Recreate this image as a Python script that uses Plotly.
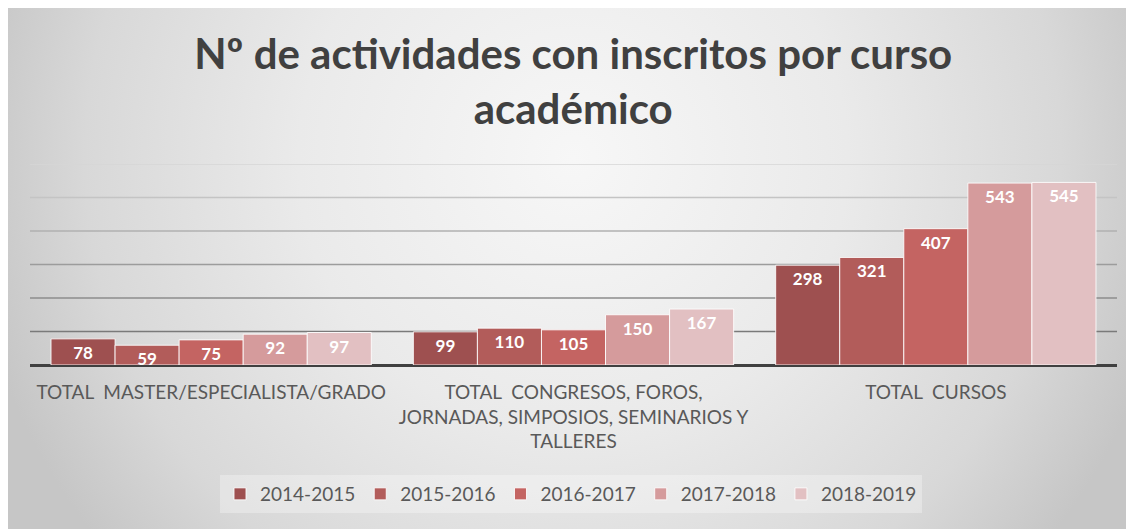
import plotly.graph_objects as go
import base64

categories = [
    "TOTAL\u00a0\u00a0MASTER/ESPECIALISTA/GRADO",
    "TOTAL\u00a0\u00a0CONGRESOS, FOROS,<br>JORNADAS, SIMPOSIOS, SEMINARIOS Y<br>TALLERES",
    "TOTAL\u00a0\u00a0CURSOS",
]
series_names = ["2014-2015", "2015-2016", "2016-2017", "2017-2018", "2018-2019"]
v_2014_2015 = [78, 99, 298]
v_2015_2016 = [59, 110, 321]
v_2016_2017 = [75, 105, 407]
v_2017_2018 = [92, 150, 543]
v_2018_2019 = [97, 167, 545]
series_values = [v_2014_2015, v_2015_2016, v_2016_2017, v_2017_2018, v_2018_2019]
colors = ["#9e5050", "#b25c5a", "#c46462", "#d59b9c", "#e2c0c2"]
grid_values = [100, 200, 300, 400, 500, 600]
grid_colors = ["#7a7a7a", "#8c8c8c", "#9c9c9c", "#b0b0b0", "#c4c4c4", "#d6d6d6"]

# page has an 8px body margin, so the figure itself is 1126x521
W, H = 1126, 521
ml, mr, mt, mb = 22, 17, 156, 164
pw, ph = W - ml - mr, H - mt - mb

fig = go.Figure()
for name, vals, col in zip(series_names, series_values, colors):
    fig.add_trace(go.Bar(
        x=categories, y=vals, name=name,
        marker=dict(color=col, line=dict(color="rgba(255,255,255,0.85)", width=1)),
        text=[str(v) for v in vals], textposition="inside", insidetextanchor="end",
        textangle=0, constraintext="none",
        textfont=dict(family="Lato, Open Sans, sans-serif", size=17, color="white", weight="bold"),
    ))

for gv, gc in zip(grid_values, grid_colors):
    fig.add_shape(type="line", xref="paper", yref="y", x0=0, x1=1, y0=gv, y1=gv,
                  line=dict(color=gc, width=1.3), layer="below")

svg = ('<svg xmlns="http://www.w3.org/2000/svg" width="1126" height="521" preserveAspectRatio="none">'
       '<defs><radialGradient id="g" gradientUnits="userSpaceOnUse" cx="565" cy="150" r="610">'
       '<stop offset="0" stop-color="#f7f7f7"/><stop offset="0.45" stop-color="#eaeaea"/>'
       '<stop offset="0.8" stop-color="#d8d8d8"/><stop offset="1" stop-color="#c6c6c6"/>'
       '</radialGradient></defs>'
       '<rect width="1126" height="521" fill="url(#g)"/></svg>')
src = "data:image/svg+xml;base64," + base64.b64encode(svg.encode()).decode()

fig.add_layout_image(dict(
    source=src, xref="paper", yref="paper", x=-ml / pw, y=(H - mb) / ph,
    sizex=W / pw, sizey=H / ph, sizing="stretch",
    xanchor="left", yanchor="top", layer="below",
))

fig.update_layout(
    width=W, height=H,
    margin=dict(l=ml, r=mr, t=mt, b=mb, autoexpand=False),
    paper_bgcolor="#e6e6e6", plot_bgcolor="rgba(0,0,0,0)",
    barmode="group", bargap=0.116, bargroupgap=0,
    title=dict(
        text="Nº de actividades con inscritos por curso<br>académico",
        x=0.502, xanchor="center", xref="container", yref="container",
        y=1 - 61 / H, yanchor="middle",
        font=dict(family="Lato, Open Sans, sans-serif", size=42, color="#404040", weight="bold"),
    ),
    xaxis=dict(
        showgrid=False, showline=False, ticks="", automargin=False,
        ticklabelstandoff=14,
        tickfont=dict(family="Lato, Open Sans, sans-serif", size=19, color="#595959"),
        fixedrange=True,
    ),
    yaxis=dict(
        range=[0, 600], dtick=100, showticklabels=False, automargin=False,
        showgrid=False,
        zeroline=True, zerolinecolor="#404040", zerolinewidth=2.5,
        showline=False, fixedrange=True,
    ),
    legend=dict(
        orientation="h", x=0.5, xanchor="center", xref="container",
        yref="container", y=1 - 486 / H, yanchor="middle",
        font=dict(family="Lato, Open Sans, sans-serif", size=19, color="#595959"),
        bgcolor="rgba(255,255,255,0.3)", itemwidth=30, tracegroupgap=0,
    ),
    showlegend=True,
)

fig.write_html("out.html")
